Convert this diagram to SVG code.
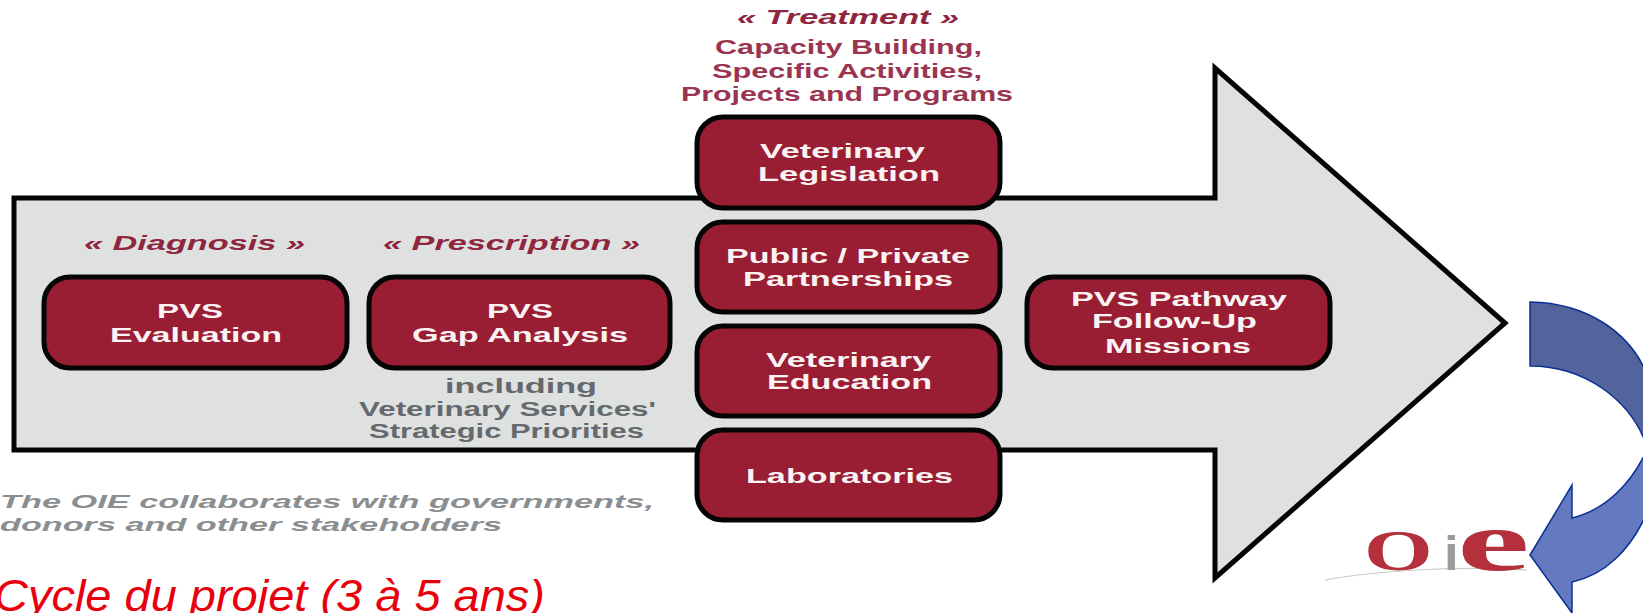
<svg xmlns="http://www.w3.org/2000/svg" width="1643" height="613" viewBox="0 0 1643 613">
<style>
text{font-family:"Liberation Sans",Arial,sans-serif;font-weight:bold}
.w{fill:#fbf3f3;font-size:21px}
.h{fill:#8f2640;font-size:21px;font-style:italic}
.m{fill:#9a3450;font-size:20.5px}
.g{fill:#65696d;font-size:20px}
.n{fill:#8b8e90;font-size:18.5px;font-style:italic}
.box{fill:#9a1e33;stroke:#050505;stroke-width:5}
</style>
<g id="main-arrow"><path d="M14 198H1215V68L1505 323L1215 578V450H14Z" fill="#dfe1e1" stroke="#050505" stroke-width="5"/></g>
<g id="labels">
<text class="h" x="84" y="250" textLength="221" lengthAdjust="spacingAndGlyphs">« Diagnosis »</text>
<text class="h" x="383" y="250" textLength="257" lengthAdjust="spacingAndGlyphs">« Prescription »</text>
<text class="h" x="737" y="24" textLength="222" lengthAdjust="spacingAndGlyphs">« Treatment »</text>
<text class="m" x="715" y="54" textLength="267" lengthAdjust="spacingAndGlyphs">Capacity Building,</text>
<text class="m" x="712" y="78" textLength="270" lengthAdjust="spacingAndGlyphs">Specific Activities,</text>
<text class="m" x="681" y="101" textLength="332" lengthAdjust="spacingAndGlyphs">Projects and Programs</text>
<text class="g" x="445" y="393" textLength="152" lengthAdjust="spacingAndGlyphs">including</text>
<text class="g" x="359" y="416" textLength="297" lengthAdjust="spacingAndGlyphs">Veterinary Services'</text>
<text class="g" x="369" y="438" textLength="275" lengthAdjust="spacingAndGlyphs">Strategic Priorities</text>
<text class="n" x="0" y="508" textLength="654" lengthAdjust="spacingAndGlyphs">The OIE collaborates with governments,</text>
<text class="n" x="0" y="531" textLength="502" lengthAdjust="spacingAndGlyphs">donors and other stakeholders</text>
<text x="-6" y="611" font-size="44" font-style="italic" style="font-weight:normal" fill="#e8000d" textLength="551" lengthAdjust="spacingAndGlyphs">Cycle du projet (3 à 5 ans)</text>
</g>
<g id="pvs-evaluation"><rect class="box" x="44" y="277" width="303" height="91" rx="26"/>
<text class="w" x="157" y="318" textLength="66" lengthAdjust="spacingAndGlyphs">PVS</text>
<text class="w" x="110" y="342" textLength="172" lengthAdjust="spacingAndGlyphs">Evaluation</text></g>
<g id="pvs-gap-analysis"><rect class="box" x="369" y="277" width="301" height="91" rx="26"/>
<text class="w" x="487" y="318" textLength="66" lengthAdjust="spacingAndGlyphs">PVS</text>
<text class="w" x="412" y="342" textLength="216" lengthAdjust="spacingAndGlyphs">Gap Analysis</text></g>
<g id="veterinary-legislation"><rect class="box" x="697" y="117" width="303" height="91" rx="26"/>
<text class="w" x="760" y="158" textLength="165" lengthAdjust="spacingAndGlyphs">Veterinary</text>
<text class="w" x="758" y="181" textLength="182" lengthAdjust="spacingAndGlyphs">Legislation</text></g>
<g id="public-private"><rect class="box" x="697" y="222" width="303" height="90" rx="26"/>
<text class="w" x="726" y="263" textLength="244" lengthAdjust="spacingAndGlyphs">Public / Private</text>
<text class="w" x="743" y="286" textLength="210" lengthAdjust="spacingAndGlyphs">Partnerships</text></g>
<g id="veterinary-education"><rect class="box" x="697" y="326" width="303" height="90" rx="26"/>
<text class="w" x="766" y="367" textLength="165" lengthAdjust="spacingAndGlyphs">Veterinary</text>
<text class="w" x="767" y="389" textLength="165" lengthAdjust="spacingAndGlyphs">Education</text></g>
<g id="laboratories"><rect class="box" x="697" y="430" width="303" height="90" rx="26"/>
<text class="w" x="746" y="483" textLength="207" lengthAdjust="spacingAndGlyphs">Laboratories</text></g>
<g id="follow-up"><rect class="box" x="1027" y="277" width="303" height="91" rx="26"/>
<text class="w" x="1071" y="306" textLength="216" lengthAdjust="spacingAndGlyphs">PVS Pathway</text>
<text class="w" x="1092" y="328" textLength="165" lengthAdjust="spacingAndGlyphs">Follow-Up</text>
<text class="w" x="1105" y="353" textLength="146" lengthAdjust="spacingAndGlyphs">Missions</text></g>
<g id="connectors">
<path d="M1530 302C1590 303 1630 335 1646 372L1646 444C1630 400 1585 366 1530 366Z" fill="#53639b" stroke="#0b2f96" stroke-width="1.5"/>
<path d="M1646 452C1630 485 1605 510 1572 518V485L1530 555L1572 613V582C1605 575 1630 550 1646 515Z" fill="#6479c0" stroke="#0b2f96" stroke-width="1.5"/>
</g>
<g id="oie-logo">
<path d="M1325 580C1380 570 1460 566 1527 570" fill="none" stroke="#c9cbcb" stroke-width="1.2"/>
<text transform="translate(1364 570) scale(1.55 1)" font-size="57" style="font-family:'Liberation Serif',serif" fill="#b3303c">O</text>
<text transform="translate(1444 570) scale(1.1 1)" font-size="48" style="font-family:'Liberation Sans',sans-serif" fill="#9a9c9e">i</text>
<text transform="translate(1457 570) scale(1.95 1)" font-size="84" style="font-family:'Liberation Serif',serif" fill="#b3303c">e</text>
</g>
</svg>
